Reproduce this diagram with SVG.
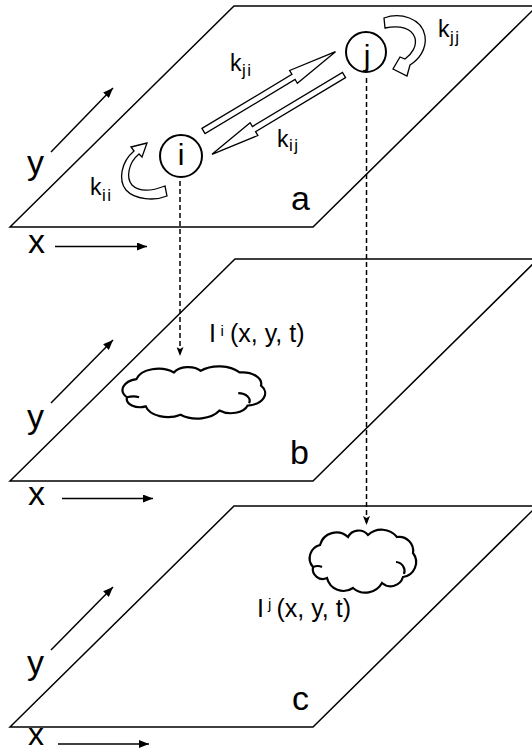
<svg xmlns="http://www.w3.org/2000/svg" xmlns:xlink="http://www.w3.org/1999/xlink" width="532" height="753" viewBox="0 0 532 753">
<style>
.pl{fill:none;stroke:#000;stroke-width:1.5}
.ax{stroke:#000;stroke-width:1.5;fill:none}
.t{font-family:"Liberation Sans",Arial,sans-serif;fill:#000}
.big{font-size:34px}
.nd{fill:#fff;stroke:#000;stroke-width:2}
.ha{fill:#fff;stroke:#000;stroke-width:1.3}
.dash{stroke:#000;stroke-width:1.5;stroke-dasharray:5 3;fill:none}
.cl{fill:#fff;stroke:#000;stroke-width:2.2}
.k{font-size:23px}
.sub{font-size:17px;letter-spacing:1.5px}
.il{font-size:25px}
.sup{font-size:15px}
</style>
<defs>
<marker id="ah" viewBox="0 0 10 8" refX="10" refY="4" markerWidth="11" markerHeight="8" markerUnits="userSpaceOnUse" orient="auto"><path d="M0,0 L10,4 L0,8 Z" fill="#000"/></marker>
<marker id="dh" viewBox="0 0 9 7" refX="9" refY="3.5" markerWidth="9" markerHeight="7" markerUnits="userSpaceOnUse" orient="auto"><path d="M0,0 L9,3.5 L0,7 L2,3.5 Z" fill="#000"/></marker>
<g id="cloudshape">
<path class="cl" vector-effect="non-scaling-stroke" d="M320,545 A17 17 0 0 1 348,537 A12 12 0 0 1 368,535 A20 20 0 0 1 397,537 A14 14 0 0 1 413,553 A15 15 0 0 1 403,577 A13 13 0 0 1 382,583 A19 19 0 0 1 353,588 A17 17 0 0 1 327,578 A10 10 0 0 1 313,567 A13.5 13.5 0 0 1 320,545 Z"/>
<path class="cl" vector-effect="non-scaling-stroke" d="M396,562 A9 9 0 0 1 404,574 M313,567 Q318,565 322,567" style="fill:none"/>
</g>
<path id="harrow" d="M0,-3 L105,-3 L105,-7.5 L154,0 L105,7.5 L105,3 L0,3 Z"/>
</defs>

<g id="plane-a">
<polygon class="pl" points="10,227 234,6 537,6 313,227"/>
<line class="ax" x1="55" y1="246.5" x2="147" y2="246.5" marker-end="url(#ah)"/>
<line class="ax" x1="51" y1="152" x2="113" y2="88" marker-end="url(#ah)"/>
<text class="t big" x="28" y="253">x</text>
<text class="t big" x="27" y="174">y</text>
<text class="t big" x="291" y="210">a</text>
</g>

<g id="plane-b">
<polygon class="pl" points="10,481 235,259 538,259 313,481"/>
<line class="ax" x1="62" y1="498.5" x2="153" y2="498.5" marker-end="url(#ah)"/>
<line class="ax" x1="51" y1="403" x2="113" y2="340" marker-end="url(#ah)"/>
<text class="t big" x="28" y="505">x</text>
<text class="t big" x="27" y="428">y</text>
<text class="t big" x="290" y="464">b</text>
</g>

<g id="plane-c">
<polygon class="pl" points="10,727 234,506 537,506 313,727"/>
<line class="ax" x1="58" y1="744" x2="149" y2="744" marker-end="url(#ah)"/>
<line class="ax" x1="51" y1="650" x2="113" y2="587" marker-end="url(#ah)"/>
<text class="t" x="28" y="745" font-size="32">x</text>
<text class="t big" x="27" y="674">y</text>
<text class="t big" x="292" y="710">c</text>
</g>

<g id="connectors">
<line class="dash" x1="180" y1="181" x2="180" y2="356" marker-end="url(#dh)"/>
<line class="dash" x1="366.5" y1="78" x2="366.5" y2="525" marker-end="url(#dh)"/>
<use xlink:href="#harrow" class="ha" transform="translate(203.5,131) rotate(-31)"/>
<use xlink:href="#harrow" class="ha" transform="translate(344,75) rotate(149)"/>
<path class="ha" d="M165,186 L167,196 C155,201 135,200 126,190 C118,180 121,162 134,151 L131,147 L147,143 L142,157 L139,154 C128,163 126,178 132,185 C139,192 152,191 165,186 Z"/>
<path class="ha" d="M384,18 C400,12 422,18 425,36 C427,50 418,60 410,65 L407,76 L393,69 L400,57 L405,59 C412,54 417,46 415,38 C412,28 400,25 385,28 Z"/>
<text class="t"><tspan class="k" x="230" y="71">k</tspan><tspan class="sub" x="242" y="76">ji</tspan></text>
<text class="t"><tspan class="k" x="277" y="146.5">k</tspan><tspan class="sub" x="289" y="151">ij</tspan></text>
<text class="t"><tspan class="k" x="90" y="195">k</tspan><tspan class="sub" x="102" y="201">ii</tspan></text>
<text class="t"><tspan class="k" x="438" y="37">k</tspan><tspan class="sub" x="450" y="43">jj</tspan></text>
</g>

<g id="node-i">
<circle class="nd" cx="181" cy="156" r="21"/>
<text class="t" x="181" y="165" font-size="30" text-anchor="middle">i</text>
</g>

<g id="node-j">
<circle class="nd" cx="366" cy="52" r="20"/>
<text class="t" x="367" y="66" font-size="30" text-anchor="middle">j</text>
</g>

<g id="cloud-i">
<use xlink:href="#cloudshape" transform="translate(123,365) scale(1.34,0.828) translate(-310,-528)"/>
<text class="t"><tspan class="il" x="209" y="342">I</tspan><tspan class="sup" x="220.5" y="336">i</tspan><tspan class="il" x="230" y="342">(x, y, t)</tspan></text>
</g>

<g id="cloud-j">
<use xlink:href="#cloudshape"/>
<text class="t"><tspan class="il" x="257" y="617">I</tspan><tspan class="sup" x="268" y="609">j</tspan><tspan class="il" x="276.5" y="617">(x, y, t)</tspan></text>
</g>
</svg>
